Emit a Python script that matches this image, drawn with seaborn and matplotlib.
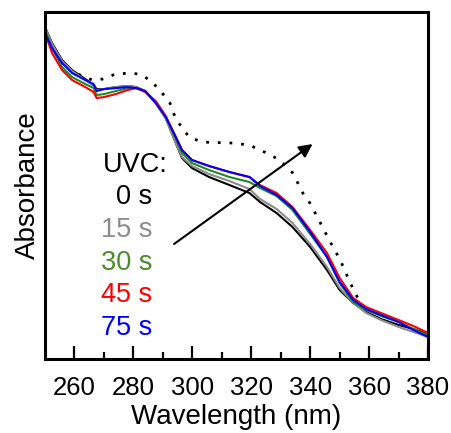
import numpy as np
import pandas as pd
import matplotlib
matplotlib.use("Agg")
import matplotlib.pyplot as plt
import seaborn as sns

# Wavelength grid (nm)
wavelength = [250, 252.4, 255.8, 259.2, 263.7, 266.5, 267.5, 270, 274, 278,
              281, 284, 287.6, 291, 294.4, 296.5, 299.9, 305.7, 312.6, 319.4,
              323, 328.6, 334, 340, 345.7, 350, 354.6, 359, 364, 370,
              375, 380]

# Absorbance (arbitrary units) for each UVC exposure time
abs_0s = [3.32, 3.16, 2.99, 2.89, 2.80, 2.74, 2.70, 2.70, 2.72, 2.73,
          2.72, 2.68, 2.56, 2.41, 2.16, 2.01, 1.91, 1.82, 1.74, 1.66,
          1.57, 1.46, 1.32, 1.12, 0.89, 0.69, 0.56, 0.47, 0.40, 0.34,
          0.30, 0.25]
abs_15s = [3.32, 3.15, 2.98, 2.88, 2.79, 2.73, 2.69, 2.70, 2.72, 2.73,
           2.72, 2.68, 2.56, 2.40, 2.16, 2.02, 1.93, 1.85, 1.78, 1.70,
           1.60, 1.50, 1.36, 1.15, 0.92, 0.71, 0.56, 0.46, 0.39, 0.32,
           0.27, 0.22]
abs_30s = [3.29, 3.11, 2.92, 2.82, 2.75, 2.71, 2.64, 2.65, 2.68, 2.71,
           2.71, 2.68, 2.57, 2.42, 2.20, 2.06, 1.96, 1.89, 1.82, 1.77,
           1.71, 1.63, 1.49, 1.25, 1.02, 0.76, 0.57, 0.49, 0.43, 0.37,
           0.30, 0.24]
abs_45s = [3.26, 3.06, 2.89, 2.79, 2.72, 2.67, 2.61, 2.62, 2.65, 2.69,
           2.71, 2.67, 2.58, 2.43, 2.22, 2.09, 1.99, 1.93, 1.87, 1.82,
           1.74, 1.66, 1.52, 1.29, 1.06, 0.81, 0.61, 0.52, 0.46, 0.39,
           0.33, 0.26]
abs_75s = [3.26, 3.11, 2.96, 2.86, 2.79, 2.75, 2.68, 2.70, 2.71, 2.72,
           2.71, 2.68, 2.56, 2.42, 2.22, 2.09, 1.99, 1.93, 1.87, 1.82,
           1.73, 1.64, 1.51, 1.27, 1.02, 0.77, 0.59, 0.50, 0.44, 0.37,
           0.29, 0.22]

# Dotted reference spectrum
ref_wavelength = [258, 260.3, 266.1, 269.5, 273.9, 278.7, 282.1, 285.6, 289, 292.4,
                  294.4, 298.9, 303.3, 313.6, 319.4, 325.2, 329.7, 334.1, 337.5, 339.9,
                  343.3, 346.8, 350.2, 353.6, 357, 358.7]
ref_abs = [2.91, 2.86, 2.79, 2.80, 2.85, 2.86, 2.85, 2.79, 2.69, 2.56,
           2.40, 2.22, 2.17, 2.16, 2.14, 2.06, 1.99, 1.86, 1.66, 1.56,
           1.37, 1.17, 0.99, 0.76, 0.56, 0.47]

labels = ["0 s", "15 s", "30 s", "45 s", "75 s"]
line_colors = ["#000000", "#8c8c8c", "#1f8a1f", "#ff0000", "#0000ff"]
text_colors = ["#000000", "#8c8c8c", "#4a8c2a", "#ff0000", "#0000ff"]
xticks = [260, 280, 300, 320, 340, 360, 380]

series = [abs_0s, abs_15s, abs_30s, abs_45s, abs_75s]
df = pd.concat([pd.DataFrame({"wl": wavelength, "A": s, "t": lab})
                for s, lab in zip(series, labels)], ignore_index=True)
ref_df = pd.DataFrame({"wl": ref_wavelength, "A": ref_abs})

sns.set_style("ticks")
plt.rcParams["font.family"] = ["Liberation Sans", "DejaVu Sans"]
plt.rcParams["text.color"] = "black"
plt.rcParams["axes.labelcolor"] = "black"
plt.rcParams["xtick.color"] = "black"
plt.rcParams["ytick.color"] = "black"

fig = plt.figure(figsize=(4.52, 4.33), dpi=100)
ax = fig.add_axes([0.0996, 0.171, 0.8474, 0.801])

sns.lineplot(data=ref_df, x="wl", y="A", ax=ax, color="black", linewidth=2,
             linestyle=(0, (1, 3.2)), legend=False)
sns.lineplot(data=df, x="wl", y="A", hue="t", palette=dict(zip(labels, line_colors)),
             hue_order=labels, ax=ax, linewidth=1.5, legend=False)

ax.set_xlim(250, 380)
ax.set_ylim(0, 3.47)
ax.set_xticks(xticks)
ax.set_xticklabels([str(v) for v in xticks])
ax.set_xticks(np.arange(270, 380, 20), minor=True)
ax.set_yticks([])
ax.tick_params(axis="x", which="major", direction="in", length=9.5, width=1.6,
               labelsize=18.5, pad=12, colors="black")
ax.tick_params(axis="x", which="minor", direction="in", length=5, width=1.6)
for sp in ax.spines.values():
    sp.set_visible(True)
    sp.set_linewidth(2.2)
    sp.set_color("black")

ax.set_xlabel("Wavelength (nm)", fontsize=20, labelpad=3)
ax.set_ylabel("Absorbance", fontsize=20, labelpad=3)

ax.text(291.6, 1.94, "UVC:", ha="right", va="center", fontsize=19.5, color="black")
ys = [1.62, 1.29, 0.96, 0.64, 0.31]
for lab, c, yv in zip(labels, text_colors, ys):
    ax.text(286.4, yv, lab, ha="right", va="center", fontsize=19.5, color=c)

ax.annotate("", xy=(340.8, 2.15), xytext=(293.8, 1.15),
            arrowprops=dict(arrowstyle="-|>,head_length=0.8,head_width=0.4",
                            color="black", lw=1.5, shrinkA=0, shrinkB=0))

fig.savefig("out.png", dpi=100)
